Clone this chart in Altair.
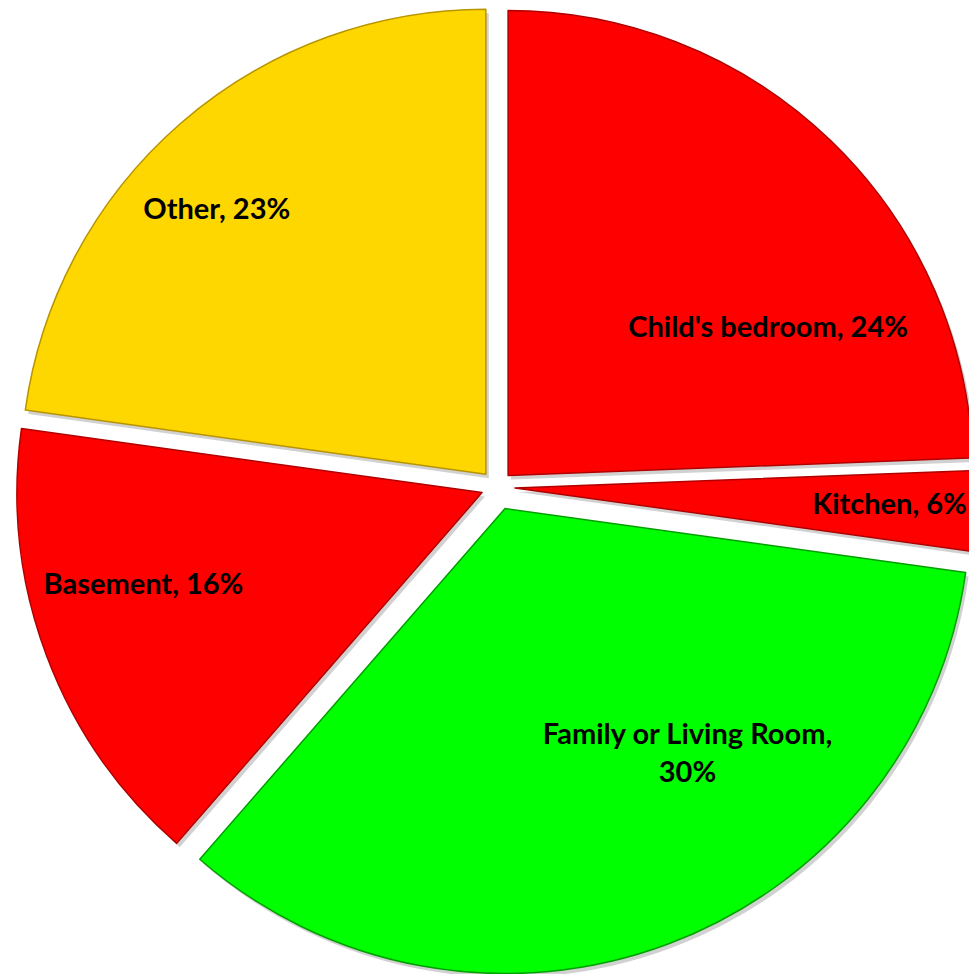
import math
import altair as alt
import pandas as pd

# ---- data ----
categories = ["Child's bedroom", "Kitchen", "Family or Living Room", "Basement", "Other"]
slice_share = [24.4, 2.8, 34.2, 15.8, 22.8]      # angular size of each slice as drawn
label_pct = [24, 6, 30, 16, 23]                   # percentages printed on the labels

# ---- styles ----
colors = ["#FF0000", "#FF0000", "#00FF00", "#FF0000", "#FFD700"]
edge_colors = ["#B00000", "#B00000", "#00A000", "#B00000", "#B89400"]
explode = [16, 18, 23, 16, 17]          # px the slice is pulled out
label_radius = [299, 375, 291, 351, 377]
label_turn = [16.5, -0.3, -18.3, 5.2, -4.5]  # degrees from the slice's mid angle

W, H = 969, 974
CX, CY, R = 497, 487, 465

labels = []
for c, p in zip(categories, label_pct):
    if c == "Family or Living Room":
        labels.append(f"{c},\n{p}%")
    else:
        labels.append(f"{c}, {p}%")

df = pd.DataFrame({
    "idx": list(range(len(categories))),
    "cat": categories,
    "share": slice_share,
    "label": labels,
    "explode": explode,
    "lr": label_radius,
    "turn": label_turn,
})

base = (
    alt.Chart(df)
    .transform_window(cum="sum(share)", sort=[alt.SortField("idx")], frame=[None, 0])
    .transform_joinaggregate(total="sum(share)")
    .transform_calculate(
        start="2*PI*(datum.cum - datum.share)/datum.total",
        end="2*PI*datum.cum/datum.total",
    )
    .transform_calculate(mid="(datum.start + datum.end)/2")
    .transform_calculate(
        cx=f"{CX} + datum.explode*sin(datum.mid)",
        cy=f"{CY} - datum.explode*cos(datum.mid)",
        la="datum.mid + datum.turn*PI/180",
    )
    .transform_calculate(
        lx="datum.cx + datum.lr*sin(datum.la)",
        ly="datum.cy - datum.lr*cos(datum.la)",
    )
)

xs = alt.Scale(domain=[0, W], range=[0, W])
ys = alt.Scale(domain=[0, H], reverse=True)
tscale = alt.Scale(domain=[0, 2 * math.pi], range=[0, 2 * math.pi])

enc_arc = dict(
    x=alt.X("cx:Q", scale=xs, axis=None),
    y=alt.Y("cy:Q", scale=ys, axis=None),
    theta=alt.Theta("start:Q", scale=tscale, stack=None),
    theta2=alt.Theta2("end:Q"),
)

shadow = base.mark_arc(outerRadius=R, xOffset=3, yOffset=4, color="#7a7a7a", opacity=0.35).encode(**enc_arc)

slices = base.mark_arc(outerRadius=R, strokeWidth=1.5, strokeJoin="round").encode(
    color=alt.Color("cat:N", scale=alt.Scale(domain=categories, range=colors), legend=None),
    stroke=alt.Stroke("cat:N", scale=alt.Scale(domain=categories, range=edge_colors), legend=None),
    **enc_arc,
)

text = base.mark_text(
    font="Lato", fontWeight="bold", fontSize=29, color="black",
    lineBreak="\n", lineHeight=38, align="center", baseline="middle",
).encode(
    x=alt.X("lx:Q", scale=xs, axis=None),
    y=alt.Y("ly:Q", scale=ys, axis=None),
    text="label:N",
)

chart = (
    alt.layer(shadow, slices, text)
    .properties(width=W, height=H, autosize=alt.AutoSizeParams(type="none"), padding=0)
    .configure_view(stroke=None)
)

chart.save("out.html", embed_options={"renderer": "svg", "actions": False})
